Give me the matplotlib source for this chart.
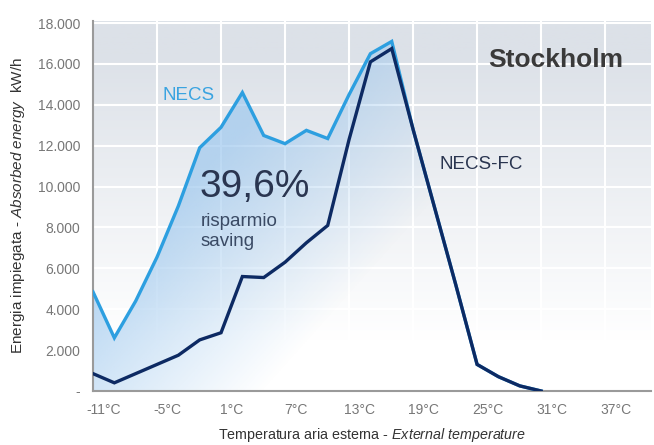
import numpy as np
import matplotlib.pyplot as plt
from matplotlib.colors import to_rgb

plt.rcParams['font.family'] = ['Liberation Sans', 'DejaVu Sans']
plt.rcParams['mathtext.fontset'] = 'custom'
plt.rcParams['mathtext.rm'] = 'Liberation Sans'
plt.rcParams['mathtext.it'] = 'Liberation Sans:italic'

# data (every 2 degC)
temps = np.arange(-12, 31, 2)
necs = [4850, 2600, 4400, 6550, 9050, 11900, 12900, 14600, 12500, 12100, 12750,
        12350, 14500, 16500, 17100, 12800, 9000, 5200, 1300, 700, 250, 0]
necs_fc = [850, 400, 850, 1300, 1750, 2500, 2850, 5600, 5550, 6300, 7250,
           8100, 12300, 16100, 16750, 12800, 9000, 5200, 1300, 700, 250, 0]

xtick_vals = [-11, -5, 1, 7, 13, 19, 25, 31, 37]
xtick_labels = [f'{t}°C' for t in xtick_vals]
xgrid_vals = [-6, 0, 6, 12, 18, 24, 30, 36]
ytick_vals = list(range(0, 18001, 2000))
ytick_labels = ['-'] + [f'{v // 1000}.000' for v in ytick_vals[1:]]

x0, x1 = -12, 40.3
y0, y1 = 0, 18100

fig = plt.figure(figsize=(6.54, 4.45), dpi=100)
ax = fig.add_axes([93/654, 1-391/445, 558/654, 370/445])

# background: grey at top fading to white
yy = np.linspace(y0, y1, 300)
t = np.clip((yy - 2500) / 14000, 0, 1)
gray = np.array(to_rgb('#dce1e8'))
bg = (1 - t)[:, None] * np.ones(3) + t[:, None] * gray
ax.imshow(bg[:, None, :], extent=[x0, x1, y0, y1], origin='lower',
          aspect='auto', zorder=0)

# blue shaded area under NECS
X, Y = np.meshgrid(np.linspace(x0, x1, 300), np.linspace(y0, y1, 300))
a = np.clip(Y / 14000 + (4 - X) / 24, 0, 1)
rgba = np.zeros((300, 300, 4))
rgba[..., :3] = to_rgb('#9ec8ee')
rgba[..., 3] = 0.7 * a
im = ax.imshow(rgba, extent=[x0, x1, y0, y1], origin='lower',
               aspect='auto', zorder=1)
poly = ax.fill_between(temps, 0, necs, facecolor='none', edgecolor='none')
im.set_clip_path(poly.get_paths()[0], transform=ax.transData)

ax.plot(temps, necs, color='#2d9fe0', lw=2.4, zorder=3, solid_joinstyle='miter')
ax.plot(temps, necs_fc, color='#0d2a63', lw=2.4, zorder=4, solid_joinstyle='miter')

ax.set_xlim(x0, x1)
ax.set_ylim(y0, y1)

ax.set_xticks(xtick_vals)
ax.set_xticklabels(xtick_labels)
ax.set_xticks(xgrid_vals, minor=True)
ax.set_yticks(ytick_vals)
ax.set_yticklabels(ytick_labels)
ax.tick_params(which='both', length=0)
ax.tick_params(axis='x', pad=9, labelsize=10, labelcolor='#777777')
ax.tick_params(axis='y', pad=9, labelsize=10, labelcolor='#777777')
ax.set_axisbelow(True)
ax.grid(False)
ax.grid(axis='x', which='minor', color='white', lw=1.5)
ax.grid(axis='y', which='major', color='white', lw=1.5)

for s in ['top', 'right']:
    ax.spines[s].set_visible(False)
for s in ['left', 'bottom']:
    ax.spines[s].set_color('#9a9a9a')
    ax.spines[s].set_linewidth(1.5)

ax.set_xlabel(r'Temperatura aria esterna - $\mathit{External\ temperature}$',
              fontsize=10.3, color='#333333', labelpad=6)
ax.set_ylabel(r'Energia impiegata - $\mathit{Absorbed\ energy}$  kW/h',
              fontsize=11, color='#333333', labelpad=8)

ax.text(-5.45, 14450, 'NECS', color='#3aa3e0', fontsize=13.5, va='center', zorder=5)
ax.text(-2.0, 10000, '39,6%', color='#2a3550', fontsize=28, va='center', zorder=5)
ax.text(-1.9, 8300, 'risparmio', color='#3a4a64', fontsize=13.5, va='center', zorder=5)
ax.text(-1.9, 7300, 'saving', color='#3a4a64', fontsize=13.5, va='center', zorder=5)
ax.text(20.5, 11100, 'NECS-FC', color='#2a3550', fontsize=13.5, va='center', zorder=5)
ax.text(25.0, 16200, 'Stockholm', color='#3a3a3a', fontsize=19, fontweight='bold',
        va='center', zorder=5)

fig.savefig('out.png', dpi=100)
